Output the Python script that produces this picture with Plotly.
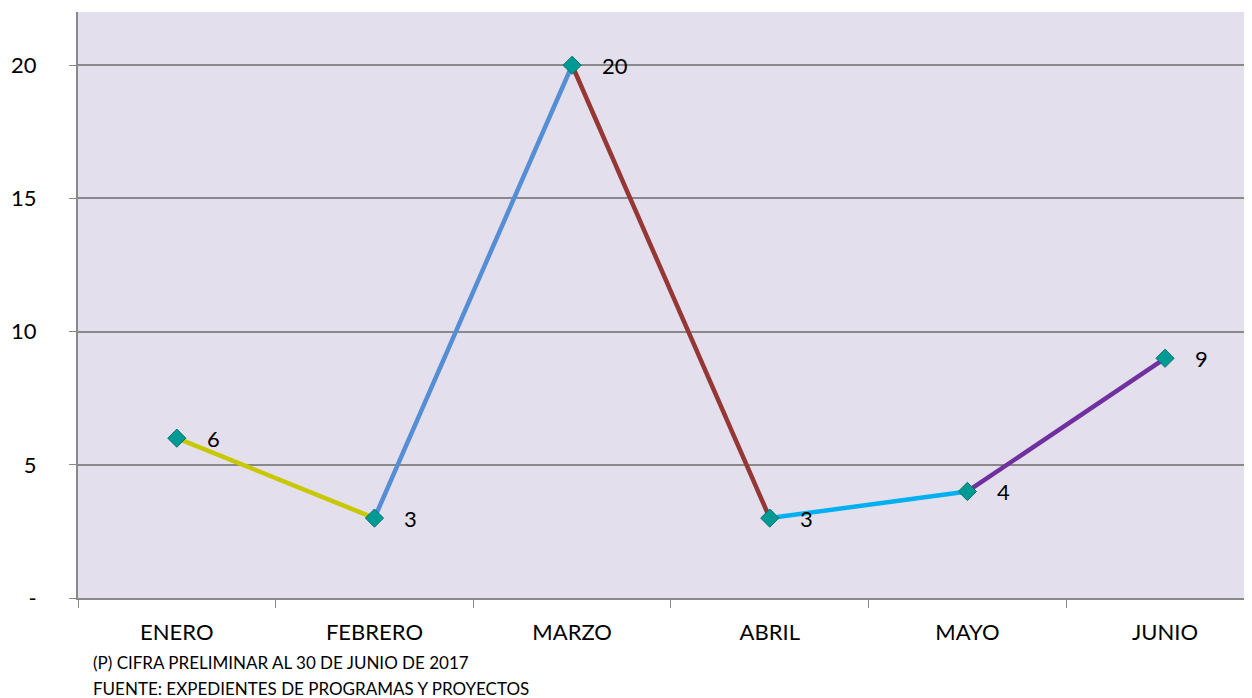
import plotly.graph_objects as go

months = ["ENERO", "FEBRERO", "MARZO", "ABRIL", "MAYO", "JUNIO"]
values = [6, 3, 20, 3, 4, 9]
segment_colors = ["#C8C800", "#558ED5", "#953735", "#00B0F0", "#7030A0"]
y_ticks = [0, 5, 10, 15, 20]
y_tick_labels = ["-", "5", "10", "15", "20"]
notes = ["(P) CIFRA PRELIMINAR AL 30 DE JUNIO DE 2017",
         "FUENTE: EXPEDIENTES DE PROGRAMAS Y PROYECTOS"]

FONT = "Lato, 'Noto Sans', sans-serif"
fig = go.Figure()

for i, c in enumerate(segment_colors):
    fig.add_trace(go.Scatter(x=months[i:i+2], y=values[i:i+2], mode="lines",
                             line=dict(color=c, width=4.5), hoverinfo="skip",
                             showlegend=False))

fig.add_trace(go.Scatter(x=months, y=values, mode="markers",
                         marker=dict(symbol="diamond", size=14, color="#009A94",
                                     line=dict(color="#00736E", width=1)),
                         showlegend=False))

for m, v in zip(months, values):
    fig.add_annotation(x=m, y=v, text=str(v), showarrow=False, xanchor="left",
                       xshift=28, font=dict(size=22, color="#000000", family=FONT))

for i, t in enumerate(notes):
    fig.add_annotation(xref="paper", yref="paper", x=13/1174, y=-(64 + 26*i)/586,
                       text=t, showarrow=False, xanchor="left", yanchor="middle",
                       font=dict(size=17, color="#000000", family=FONT))

fig.update_layout(
    width=1244, height=690,
    margin=dict(l=70, r=0, t=4, b=100),
    paper_bgcolor="white", plot_bgcolor="#E4DFEC",
    font=dict(family=FONT, color="#000000"),
    xaxis=dict(type="category", categoryorder="array", categoryarray=months,
               range=[-0.5, 5.44], showgrid=False, tickson="boundaries",
               ticks="outside", ticklen=8, tickcolor="#898989",
               showline=True, linecolor="#898989", linewidth=2,
               tickfont=dict(size=22), ticklabelstandoff=14, zeroline=False),
    yaxis=dict(tickmode="array", tickvals=y_ticks, ticktext=y_tick_labels,
               range=[0, 22], showgrid=True, gridcolor="#898989", gridwidth=1.5,
               ticks="outside", ticklen=7, tickcolor="#898989",
               showline=True, linecolor="#898989", linewidth=2,
               tickfont=dict(size=22), ticklabelstandoff=28, zeroline=False),
)

fig.write_html("out.html")
